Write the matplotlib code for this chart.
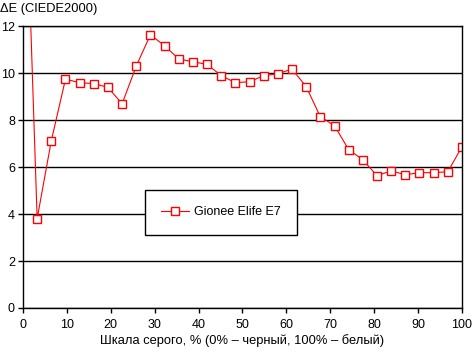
import numpy as np
import matplotlib
matplotlib.use("Agg")
import matplotlib.pyplot as plt

plt.rcParams['font.family'] = ['Liberation Sans', 'DejaVu Sans']

# gray levels 0..100 % in 32 steps
gray = np.arange(32) * 100 / 31
delta_e = [22.0, 3.80, 7.12, 9.74, 9.59, 9.55, 9.39, 8.69, 10.30, 11.63, 11.16,
           10.60, 10.48, 10.37, 9.89, 9.59, 9.63, 9.89, 9.97, 10.17, 9.42, 8.14,
           7.76, 6.74, 6.31, 5.63, 5.84, 5.67, 5.76, 5.76, 5.80, 6.86]
series_name = "Gionee Elife E7"
x_ticks = list(range(0, 101, 10))
y_ticks = list(range(0, 13, 2))

fig = plt.figure(figsize=(4.72, 3.52), dpi=100)
ax = fig.add_axes([0.0487, 0.125, 0.930, 0.801])

ax.plot(gray, delta_e, color='red', lw=0.8, marker='s', markersize=5.3,
        markerfacecolor='white', markeredgecolor='red', markeredgewidth=1.0,
        label=series_name, clip_on=True)

ax.set_xlim(0, 100)
ax.set_ylim(0, 12)
ax.set_xticks(x_ticks)
ax.set_yticks(y_ticks)
ax.yaxis.grid(True, color='black', lw=1.0)
ax.set_axisbelow(True)
for s in ax.spines.values():
    s.set_color('black')
    s.set_linewidth(1.0)
ax.tick_params(axis='both', direction='out', length=3.3, width=1.0,
               labelsize=9, colors='black')
ax.tick_params(axis='x', pad=4.5)
ax.tick_params(axis='y', pad=2.5)

ax.set_xlabel("Шкала серого, % (0% – черный, 100% – белый)", fontsize=9.3, labelpad=2)
fig.text(0.0, 0.975, "ΔE (CIEDE2000)", fontsize=9.3, ha='left', va='center')

leg = ax.legend(loc='center', bbox_to_anchor=(0.451, 0.339), fontsize=9,
                frameon=True, fancybox=False, borderpad=1.3, handlelength=2.2,
                handletextpad=0.4, edgecolor='black', framealpha=1)
leg.get_frame().set_linewidth(1.0)

fig.savefig("out.png", dpi=100)
